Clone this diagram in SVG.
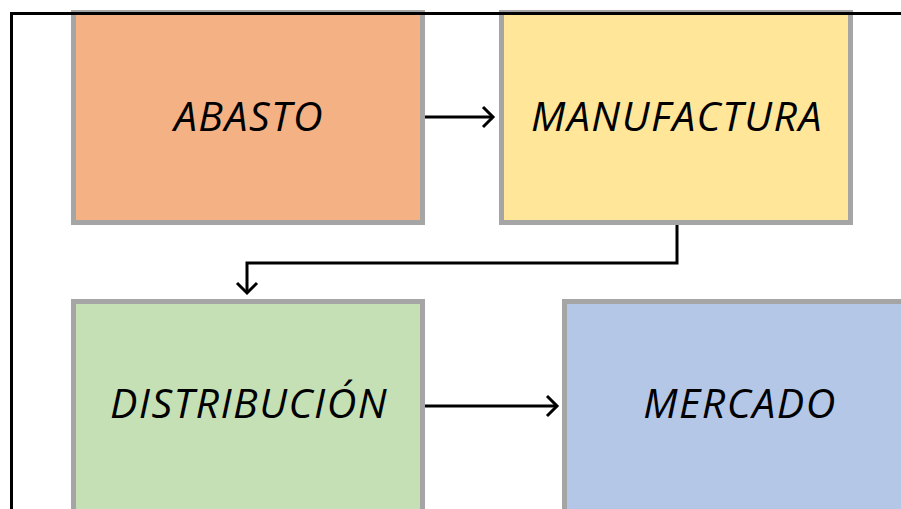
<svg xmlns="http://www.w3.org/2000/svg" width="901" height="509" viewBox="0 0 901 509">
<style>
.box{stroke:#A5A5A5;stroke-width:5}
.lbl{font-family:"Open Sans","Noto Sans",sans-serif;font-style:italic;font-size:41px;letter-spacing:1.5px;fill:#000;text-anchor:middle}
.conn{fill:none;stroke:#000;stroke-width:3}
.frame{fill:none;stroke:#000;stroke-width:3}
</style>
<defs>
<marker id="arr" markerUnits="userSpaceOnUse" markerWidth="30" markerHeight="30" viewBox="-15 -15 30 30" refX="0" refY="0" orient="auto" overflow="visible">
<path d="M-10,-10 L0,0 L-10,10" fill="none" stroke="#000" stroke-width="3"/>
</marker>
</defs>
<rect width="901" height="509" fill="#fff"/>
<g id="abasto">
<rect class="box" x="73.5" y="12.5" width="349" height="210" fill="#F4B183"/>
<text class="lbl" x="249" y="131">ABASTO</text>
</g>
<g id="manufactura">
<rect class="box" x="501.5" y="12.5" width="349" height="210" fill="#FFE699"/>
<text class="lbl" x="677" y="131">MANUFACTURA</text>
</g>
<g id="distribucion">
<rect class="box" x="73.5" y="301.5" width="349" height="230" fill="#C5E0B4"/>
<text class="lbl" x="249" y="418">DISTRIBUCIÓN</text>
</g>
<g id="mercado">
<rect class="box" x="564.5" y="301.5" width="349" height="230" fill="#B4C7E7"/>
<text class="lbl" x="740" y="418">MERCADO</text>
</g>
<g id="frame">
<path class="frame" d="M11.5,509 V13.5 H901"/>
</g>
<g id="connectors">
<path class="conn" d="M425,117 H493" marker-end="url(#arr)"/>
<path class="conn" d="M677,225 V263 H247 V293" marker-end="url(#arr)"/>
<path class="conn" d="M425,406 H557" marker-end="url(#arr)"/>
</g>
</svg>
